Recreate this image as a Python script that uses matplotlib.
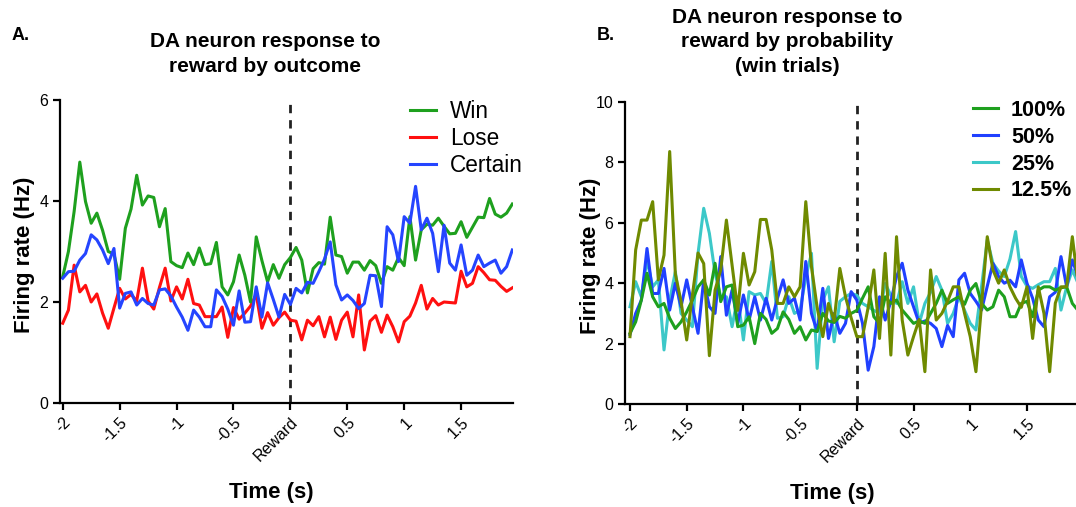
import numpy as np
import matplotlib
matplotlib.use("Agg")
import matplotlib.pyplot as plt

plt.rcParams['font.family'] = ['Liberation Sans', 'DejaVu Sans']

# time bins (s), 50 ms bins from -2 s
t = np.round(np.arange(80) * 0.05 - 2.0, 2)

xtick_pos = [-2, -1.5, -1, -0.5, 0, 0.5, 1, 1.5]
xtick_lab = ['-2', '-1.5', '-1', '-0.5', 'Reward', '0.5', '1', '1.5']

# panel A: response by outcome
win = [2.50, 3.00, 3.79, 4.77, 3.99, 3.56, 3.76, 3.42, 3.00, 2.95,
       2.45, 3.46, 3.84, 4.51, 3.92, 4.10, 4.07, 3.49, 3.85, 2.80,
       2.72, 2.68, 2.97, 2.74, 3.07, 2.74, 2.76, 3.18, 2.30, 2.14,
       2.40, 2.93, 2.53, 2.00, 3.29, 2.82, 2.40, 2.74, 2.47, 2.74,
       2.88, 3.08, 2.83, 2.18, 2.66, 2.78, 2.75, 3.68, 2.93, 2.90,
       2.57, 2.79, 2.79, 2.63, 2.82, 2.72, 2.37, 2.70, 2.63, 2.88,
       2.72, 3.69, 2.83, 3.43, 3.54, 3.52, 3.66, 3.50, 3.35, 3.36,
       3.59, 3.28, 3.48, 3.68, 3.67, 4.05, 3.74, 3.68, 3.76, 3.94]
lose = [1.58, 1.84, 2.73, 2.20, 2.33, 2.00, 2.16, 1.78, 1.48, 1.88,
        2.27, 2.06, 2.15, 2.02, 2.67, 2.02, 1.86, 2.29, 2.67, 2.02,
        2.30, 2.06, 2.45, 1.97, 1.94, 1.71, 1.71, 1.71, 1.90, 1.30,
        1.89, 1.66, 1.78, 1.92, 2.15, 1.48, 1.79, 1.54, 1.69, 1.80,
        1.64, 1.62, 1.25, 1.64, 1.53, 1.71, 1.31, 1.70, 1.26, 1.64,
        1.80, 1.31, 2.14, 1.05, 1.62, 1.73, 1.40, 1.74, 1.51, 1.21,
        1.61, 1.72, 1.98, 2.33, 1.86, 2.07, 1.94, 2.00, 1.99, 1.98,
        2.61, 2.30, 2.37, 2.70, 2.58, 2.44, 2.43, 2.31, 2.21, 2.28]
certain = [2.47, 2.60, 2.61, 2.83, 2.96, 3.33, 3.23, 3.03, 2.76, 3.06,
           1.88, 2.17, 2.20, 1.94, 2.07, 1.97, 1.94, 2.24, 2.26, 2.12,
           1.90, 1.70, 1.44, 1.84, 1.70, 1.51, 1.51, 2.24, 2.11, 1.86,
           1.54, 2.22, 1.60, 1.61, 2.30, 1.70, 2.38, 2.05, 1.70, 2.15,
           1.95, 2.27, 2.18, 2.39, 2.37, 2.60, 2.85, 3.19, 2.34, 2.04,
           2.14, 2.03, 1.87, 1.97, 2.53, 2.52, 1.91, 3.49, 3.33, 2.80,
           3.69, 3.56, 4.29, 3.43, 3.66, 3.36, 2.60, 3.52, 2.77, 2.63,
           3.13, 2.53, 2.63, 2.93, 2.70, 2.77, 2.83, 2.57, 2.70, 3.03]

# panel B: win trials by probability
p100 = [2.34, 2.72, 3.44, 4.33, 3.55, 3.22, 3.33, 2.84, 2.50, 2.72,
        3.05, 3.44, 3.88, 4.11, 3.61, 4.66, 3.39, 3.88, 3.94, 2.56,
        2.61, 2.89, 2.00, 3.00, 2.80, 2.34, 2.50, 3.05, 2.80, 2.34,
        2.56, 2.12, 2.45, 2.40, 3.00, 2.75, 2.70, 2.90, 2.84, 3.00,
        3.10, 3.50, 3.88, 2.89, 2.67, 3.55, 3.33, 3.44, 3.11, 2.89,
        2.67, 2.75, 2.67, 3.00, 3.33, 3.77, 3.33, 3.45, 3.55, 3.30,
        3.77, 3.99, 3.33, 3.11, 3.22, 3.77, 3.55, 2.89, 2.89, 3.33,
        3.40, 2.89, 3.77, 3.88, 3.88, 3.77, 3.85, 3.88, 3.33, 3.10]
p50 = [2.30, 3.00, 3.44, 5.15, 3.66, 3.66, 4.49, 3.11, 4.00, 3.22,
       4.11, 3.22, 2.34, 4.11, 3.22, 3.00, 4.88, 2.94, 3.77, 2.67,
       3.61, 2.78, 3.55, 2.78, 3.50, 2.78, 3.50, 4.11, 3.33, 3.50,
       2.78, 4.72, 3.00, 2.40, 3.83, 2.17, 3.00, 2.34, 2.67, 3.72,
       3.44, 2.67, 1.12, 1.90, 3.55, 2.78, 3.40, 4.22, 4.66, 3.77,
       3.22, 2.67, 2.75, 2.67, 2.50, 1.90, 2.60, 2.23, 4.11, 4.33,
       3.66, 3.40, 3.11, 3.90, 4.66, 4.22, 4.00, 4.10, 3.88, 4.77,
       4.00, 3.50, 2.78, 2.56, 3.55, 3.70, 4.88, 3.88, 4.77, 4.20]
p25 = [3.22, 4.05, 3.55, 4.77, 3.88, 4.11, 1.79, 3.44, 4.38, 3.00,
       2.78, 2.56, 4.99, 6.48, 5.65, 4.33, 3.55, 3.55, 2.56, 3.55,
       2.12, 3.72, 3.61, 3.66, 3.33, 4.72, 2.84, 2.89, 3.55, 3.00,
       3.11, 4.20, 4.99, 1.18, 3.44, 3.88, 2.06, 3.40, 3.55, 3.66,
       3.60, 3.33, 3.22, 3.10, 3.00, 3.99, 3.60, 3.33, 4.05, 3.33,
       3.88, 2.67, 3.33, 3.70, 4.22, 3.77, 2.67, 3.00, 3.55, 3.10,
       2.67, 2.45, 3.90, 5.43, 4.66, 4.40, 4.22, 4.80, 5.71, 4.22,
       3.90, 3.83, 3.95, 4.05, 4.05, 4.49, 3.11, 3.88, 4.44, 4.00]
p125 = [2.23, 5.10, 6.09, 6.09, 6.70, 4.11, 4.93, 8.36, 4.30, 3.40,
        2.12, 3.60, 5.00, 4.65, 1.60, 3.77, 4.44, 6.09, 4.60, 3.10,
        4.99, 3.94, 4.38, 6.11, 6.11, 5.10, 3.33, 3.33, 3.88, 3.55,
        3.88, 6.70, 4.55, 3.20, 2.23, 3.33, 2.75, 4.49, 3.55, 2.85,
        2.23, 2.23, 3.20, 4.44, 2.17, 4.99, 1.62, 5.54, 2.78, 1.62,
        2.23, 2.80, 1.07, 4.44, 2.78, 3.00, 3.40, 3.88, 3.88, 3.00,
        2.23, 1.07, 3.30, 5.54, 4.44, 4.00, 4.44, 3.88, 3.50, 3.20,
        3.88, 2.17, 3.88, 3.00, 1.07, 3.34, 3.88, 3.88, 5.54, 4.00]

W, H = 1076, 507
fig = plt.figure(figsize=(W / 100, H / 100), dpi=100)


def px_axes(x0, x1, y_top, y_bot):
    return fig.add_axes([x0 / W, 1 - y_bot / H, (x1 - x0) / W, (y_bot - y_top) / H])


def style(ax, ymax, ystep):
    for s in ['top', 'right']:
        ax.spines[s].set_visible(False)
    for s in ['left', 'bottom']:
        ax.spines[s].set_linewidth(1.6)
    ax.tick_params(direction='out', length=5, width=1.6, labelsize=11.5)
    ax.set_ylim(0, ymax)
    ax.set_yticks(np.arange(0, ymax + 0.1, ystep))
    ax.set_xticks(xtick_pos)
    ax.set_xticklabels(xtick_lab, rotation=45, ha='right', rotation_mode='anchor')
    ax.axvline(0, color='#222222', lw=2, ls=(0, (3, 2.5)), zorder=1)
    ax.set_xlabel('Time (s)', fontsize=16, fontweight='bold')
    ax.set_ylabel('Firing rate (Hz)', fontsize=16, fontweight='bold')


leg_kw = dict(loc='upper left', frameon=False, handlelength=1.15,
              handletextpad=0.6, borderpad=0, borderaxespad=0)

# ---- panel A ----
axA = px_axes(60, 513, 100, 403)
axA.plot(t, lose, color='#ff1010', lw=2.2, label='Lose')
axA.plot(t, win, color='#1ea01e', lw=2.2, label='Win')
axA.plot(t, certain, color='#2545ff', lw=2.2, label='Certain')
axA.set_xlim(-2.024, 1.956)
style(axA, 6, 2)
axA.xaxis.set_label_coords(0.466, -0.26)
axA.yaxis.set_label_coords(-0.056, 0.49)
h, l = axA.get_legend_handles_labels()
order = [1, 0, 2]
axA.legend([h[i] for i in order], [l[i] for i in order],
           bbox_to_anchor=(0.773, 1.0), prop={'size': 16.3},
           labelspacing=0.17, **leg_kw)

# ---- panel B ----
axB = px_axes(625, 1078, 102, 404)
axB.plot(t, p25, color='#3cc8c8', lw=2.2, label='25%')
axB.plot(t, p50, color='#2040ff', lw=2.2, label='50%')
axB.plot(t, p100, color='#1ea01e', lw=2.2, label='100%')
axB.plot(t, p125, color='#6f8a00', lw=2.2, label='12.5%')
axB.set_xlim(-2.044, 1.95)
style(axB, 10, 2)
axB.xaxis.set_label_coords(0.457, -0.26)
axB.yaxis.set_label_coords(-0.052, 0.49)
h, l = axB.get_legend_handles_labels()
order = [2, 1, 0, 3]
axB.legend([h[i] for i in order], [l[i] for i in order],
           bbox_to_anchor=(0.769, 1.007), prop={'size': 15.5, 'weight': 'bold'},
           labelspacing=0.27, **leg_kw)

# titles and panel letters
fig.text(12 / W, 1 - 27 / H, 'A.', fontsize=13, fontweight='bold', va='top')
fig.text(597 / W, 1 - 27 / H, 'B.', fontsize=13, fontweight='bold', va='top')
fig.text(265 / W, 1 - 32 / H, 'DA neuron response to\nreward by outcome',
         ha='center', va='top', fontsize=15, fontweight='bold', linespacing=1.4)
fig.text(787 / W, 1 - 8 / H, 'DA neuron response to\nreward by probability\n(win trials)',
         ha='center', va='top', fontsize=15, fontweight='bold', linespacing=1.36)

fig.savefig('out.png', dpi=100)
